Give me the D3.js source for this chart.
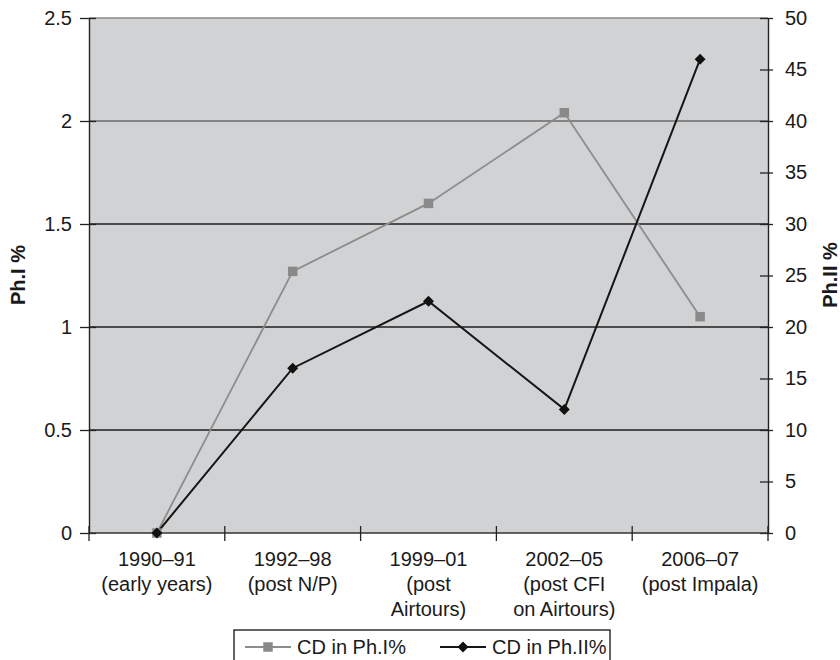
<!DOCTYPE html>
<html>
<head>
<meta charset="utf-8">
<script src="https://cdn.jsdelivr.net/npm/d3@7"></script>
<style>
  html, body { margin: 0; padding: 0; background: #fff; }
  svg { display: block; font-family: "Liberation Sans", Arial, sans-serif; }
</style>
</head>
<body>
<svg id="chart" width="840" height="660"></svg>
<script>
const categories = [
  ["1990\u201391", "(early years)"],
  ["1992\u201398", "(post N/P)"],
  ["1999\u201301", "(post", "Airtours)"],
  ["2002\u201305", "(post CFI", "on Airtours)"],
  ["2006\u201307", "(post Impala)"]
];
const phI = [0, 1.27, 1.6, 2.04, 1.05];
const phII = [0, 16, 22.5, 12, 46];
const leftTicks = [0, 0.5, 1, 1.5, 2, 2.5];
const rightTicks = [0, 5, 10, 15, 20, 25, 30, 35, 40, 45, 50];
const seriesNames = ["CD in Ph.I%", "CD in Ph.II%"];

const svg = d3.select("#chart");
const L = 89, R = 768, T = 18, B = 533;
const idx = categories.map((d, i) => i);
const x = d3.scaleBand().domain(idx).range([L, R]);
const yL = d3.scaleLinear().domain([0, 2.5]).range([B, T]);
const yR = d3.scaleLinear().domain([0, 50]).range([B, T]);
const cx = i => x(i) + x.bandwidth() / 2;

// plot background
svg.append("rect").attr("x", L).attr("y", T).attr("width", R - L).attr("height", B - T)
  .attr("fill", "#d1d2d4");

// gridlines
svg.append("g").selectAll("line").data(leftTicks.filter(t => t > 0 && t < 2.5)).join("line")
  .attr("x1", L).attr("x2", R).attr("y1", d => yL(d)).attr("y2", d => yL(d))
  .attr("stroke", d => d === 2 ? "#6a6a6a" : "#1e1e1e").attr("stroke-width", 1.4);
// top border
svg.append("line").attr("x1", L).attr("x2", R).attr("y1", T).attr("y2", T)
  .attr("stroke", "#8a8a8a").attr("stroke-width", 1.4);

// left axis
const gl = svg.append("g").attr("transform", `translate(${L},0)`)
  .call(d3.axisLeft(yL).tickValues(leftTicks).tickFormat(d3.format("")).tickSizeInner(8).tickSizeOuter(0).tickPadding(8));
gl.selectAll(".tick line").attr("x2", -9).attr("x1", 7).attr("stroke", "#222").attr("stroke-width", 1.3);
gl.select(".domain").attr("stroke", "#222").attr("stroke-width", 1.4);
gl.selectAll("text").attr("font-size", 20).attr("fill", "#1a1a1a").attr("x", -17);

// right axis
const gr = svg.append("g").attr("transform", `translate(${R},0)`)
  .call(d3.axisRight(yR).tickValues(rightTicks).tickFormat(d3.format("")).tickSizeInner(8).tickSizeOuter(0).tickPadding(8));
gr.selectAll(".tick line").attr("x1", -8).attr("x2", 5).attr("stroke", "#222").attr("stroke-width", 1.3);
gr.select(".domain").attr("stroke", "#222").attr("stroke-width", 1.4);
gr.selectAll("text").attr("font-size", 20).attr("fill", "#1a1a1a").attr("x", 17);

// bottom axis
svg.append("line").attr("x1", L).attr("x2", R).attr("y1", B).attr("y2", B)
  .attr("stroke", "#333").attr("stroke-width", 1.4);
const bounds = [L].concat(idx.map(i => x(i) + x.bandwidth()));
svg.append("g").selectAll("line").data(bounds).join("line")
  .attr("x1", d => d).attr("x2", d => d).attr("y1", B - 7).attr("y2", B + 8)
  .attr("stroke", "#222").attr("stroke-width", 1.3);
const xl = svg.append("g").selectAll("text").data(categories).join("text")
  .attr("x", (d, i) => cx(i)).attr("y", 566)
  .attr("text-anchor", "middle").attr("font-size", 20).attr("fill", "#1a1a1a");
xl.each(function(d) {
  const t = d3.select(this);
  d.forEach((s, j) => t.append("tspan").attr("x", t.attr("x")).attr("dy", j === 0 ? 0 : 25).text(s));
});

// axis titles
svg.append("text").attr("transform", `translate(25,275) rotate(-90)`)
  .attr("text-anchor", "middle").attr("font-size", 20).attr("font-weight", "bold").attr("fill", "#1a1a1a")
  .text("Ph.I %");
svg.append("text").attr("transform", `translate(837,275) rotate(-90)`)
  .attr("text-anchor", "middle").attr("font-size", 20).attr("font-weight", "bold").attr("fill", "#1a1a1a")
  .text("Ph.II %");

// series lines
const line1 = d3.line().x((d, i) => cx(i)).y(d => yL(d));
const line2 = d3.line().x((d, i) => cx(i)).y(d => yR(d));
svg.append("path").datum(phI).attr("d", line1).attr("fill", "none")
  .attr("stroke", "#8c8c8c").attr("stroke-width", 1.8);
svg.append("path").datum(phII).attr("d", line2).attr("fill", "none")
  .attr("stroke", "#151515").attr("stroke-width", 2);

const sq = d3.symbol().type(d3.symbolSquare).size(90);
const dm = d3.symbol().type(d3.symbolSquare).size(60);
svg.append("g").selectAll("path").data(phI).join("path")
  .attr("d", sq).attr("transform", (d, i) => `translate(${cx(i)},${yL(d)})`)
  .attr("fill", "#898989");
svg.append("g").selectAll("path").data(phII).join("path")
  .attr("d", dm).attr("transform", (d, i) => `translate(${cx(i)},${yR(d)}) rotate(45)`)
  .attr("fill", "#111");

// legend
const lg = svg.append("g");
lg.append("rect").attr("x", 234).attr("y", 630).attr("width", 376).attr("height", 40)
  .attr("fill", "#fff").attr("stroke", "#222").attr("stroke-width", 1.4);
const items = [
  {name: seriesNames[0], x0: 245, color: "#8c8c8c", sym: sq, fill: "#898989", rot: 0},
  {name: seriesNames[1], x0: 440, color: "#151515", sym: dm, fill: "#111", rot: 45}
];
items.forEach(it => {
  lg.append("line").attr("x1", it.x0).attr("x2", it.x0 + 46).attr("y1", 647).attr("y2", 647)
    .attr("stroke", it.color).attr("stroke-width", 1.8);
  lg.append("path").attr("d", it.sym).attr("transform", `translate(${it.x0 + 23},647) rotate(${it.rot})`).attr("fill", it.fill);
  lg.append("text").attr("x", it.x0 + 52).attr("y", 654).attr("font-size", 20).attr("fill", "#1a1a1a").text(it.name);
});
</script>
</body>
</html>
